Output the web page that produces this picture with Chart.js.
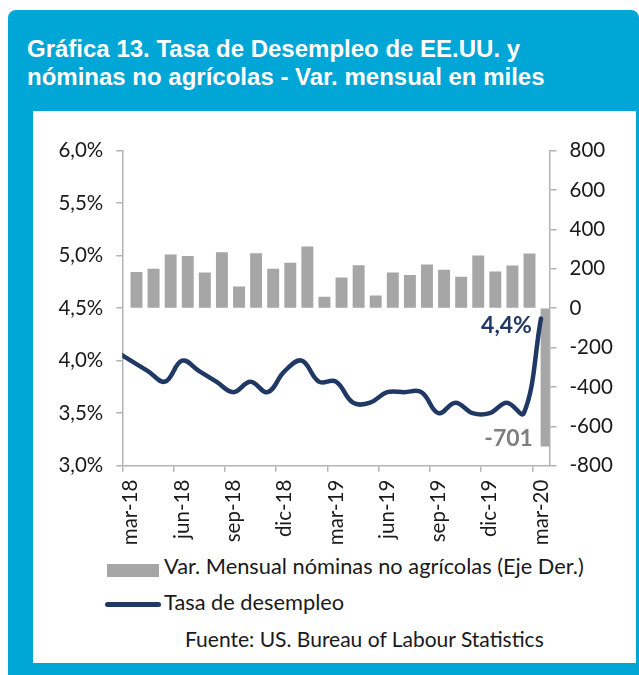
<!DOCTYPE html>
<html><head><meta charset="utf-8">
<script src="https://cdn.jsdelivr.net/npm/chart.js@4"></script>
<style>
html,body{margin:0;padding:0;background:#fff;width:639px;height:675px;overflow:hidden;}
#frame{position:absolute;left:8px;top:10px;width:631px;height:665px;background:#00A6D6;border-radius:8px 8px 0 0;}
#title{position:absolute;left:27px;top:34.7px;color:#fff;font-family:"Liberation Sans",Arial,sans-serif;font-weight:bold;font-size:24px;line-height:28px;white-space:nowrap;}
#panel{position:absolute;left:33px;top:111px;width:603px;height:552px;background:#fff;}
#c{position:absolute;left:0;top:0;}
.lg{position:absolute;font-family:Lato,sans-serif;color:#1a1a1a;white-space:nowrap;font-size:21.8px;line-height:24px;}
.sw{position:absolute;}
</style></head><body>
<div id="frame"></div>
<div id="title">Gráfica 13. Tasa de Desempleo de EE.UU. y<br>nóminas no agrícolas - Var. mensual en miles</div>
<div id="panel"></div>
<div class="sw" style="left:107px;top:564px;width:52px;height:13px;background:#A6A6A6;"></div>
<div class="lg" style="left:164px;top:554.4px;">Var. Mensual nóminas no agrícolas (Eje Der.)</div>
<div class="sw" style="left:105px;top:601.5px;width:56px;height:5px;border-radius:3px;background:#203864;"></div>
<div class="lg" style="left:164px;top:590px;">Tasa de desempleo</div>
<div class="lg" style="left:185px;top:627.4px;font-size:21px;">Fuente: US. Bureau of Labour Statistics</div>
<canvas id="c" width="639" height="675"></canvas>
<script>
// Monthly categories shown on the x axis (mar-18 .. mar-20)
const categories = ['mar-18','abr-18','may-18','jun-18','jul-18','ago-18','sep-18','oct-18','nov-18','dic-18','ene-19','feb-19','mar-19','abr-19','may-19','jun-19','jul-19','ago-19','sep-19','oct-19','nov-19','dic-19','ene-20','feb-20','mar-20'];
// Non-farm payrolls, monthly change in thousands (right axis)
const payrollChange = [182,198,270,263,179,282,108,277,198,228,311,56,154,216,62,179,166,220,193,157,265,184,214,275,-701];
// Unemployment rate (%), starting one month earlier (feb-18), which is clipped at the left axis
const unemploymentRate = [4.1,4.0,3.9,3.8,4.0,3.9,3.8,3.7,3.8,3.7,3.9,4.0,3.8,3.8,3.6,3.6,3.7,3.7,3.7,3.5,3.6,3.5,3.5,3.6,3.5,4.4];
const unemploymentStartIndex = -1;
const leftTickValues = [3.0,3.5,4.0,4.5,5.0,5.5,6.0];
const rightTickValues = [-800,-600,-400,-200,0,200,400,600,800];
const labelEvery = 3;

const axisColor = '#B3B3B3';
const tickFont = {family:'Lato', size:20.5};
const fmtPct = v => v.toFixed(1).replace('.', ',') + '%';

const valueLabels = {
  id:'valueLabels',
  afterDatasetsDraw(chart){
    const c = chart.ctx;
    const lineMeta = chart.getDatasetMeta(0).data;
    const barMeta = chart.getDatasetMeta(1).data;
    const lp = lineMeta[lineMeta.length - 1];
    const bp = barMeta[barMeta.length - 1];
    c.save();
    c.font = 'bold 23px Lato';
    c.textAlign = 'right';
    c.textBaseline = 'middle';
    c.fillStyle = '#203864';
    c.fillText(fmtPct(unemploymentRate[unemploymentRate.length - 1]), lp.x - 9, lp.y + 7);
    c.fillStyle = '#7F7F7F';
    c.fillText(String(payrollChange[payrollChange.length - 1]), bp.x - bp.width/2 - 8, bp.y - 8);
    c.restore();
  }
};

new Chart(document.getElementById('c'), {
  data: {
    labels: categories,
    datasets: [
      {type:'line', label:'Tasa de desempleo', xAxisID:'x2', yAxisID:'y',
       data: unemploymentRate.map((v, i) => ({x: i + unemploymentStartIndex, y: v})),
       borderColor:'#203864', borderWidth:4.5, tension:0.4, pointRadius:0, order:0, clip:0,
       borderCapStyle:'round', borderJoinStyle:'round'},
      {type:'bar', label:'Var. Mensual nóminas no agrícolas (Eje Der.)', data: payrollChange, xAxisID:'x', yAxisID:'y1',
       backgroundColor:'#A6A6A6', order:1,
       barThickness: ctx => ctx.chart.scales.x.width / categories.length * 0.66}
    ]
  },
  options: {
    responsive:false, animation:false, devicePixelRatio:1,
    layout:{padding:{left:40, right:0, top:150.5, bottom:129.3}},
    plugins:{legend:{display:false}, tooltip:{enabled:false}},
    scales:{
      x:{
        offset:true,
        grid:{offset:true, drawOnChartArea:false, drawTicks:true, tickLength:6, lineWidth:1.5,
              color: c => (c.index !== undefined && c.index % labelEvery === 0) ? axisColor : 'rgba(0,0,0,0)'},
        border:{display:true, color:axisColor, width:1.5},
        ticks:{autoSkip:false, maxRotation:90, minRotation:90, padding:8, color:'#1a1a1a', font:tickFont,
               callback:(v,i) => i % labelEvery === 0 ? categories[i] : ''},
        afterFit: s => { s.height = 80; }
      },
      x2:{
        type:'linear', display:false, min:-0.5, max:categories.length - 0.5
      },
      y:{
        position:'left', min:3, max:6,
        afterBuildTicks: s => { s.ticks = leftTickValues.map(v => ({value:v})); },
        grid:{drawOnChartArea:false, tickLength:6, color:axisColor, lineWidth:1.5},
        border:{color:axisColor, width:1.5},
        ticks:{padding:13, color:'#1a1a1a', font:tickFont, callback: v => fmtPct(v)},
        afterFit: s => { s.width = 82.3; }
      },
      y1:{
        position:'right', min:-800, max:800,
        afterBuildTicks: s => { s.ticks = rightTickValues.map(v => ({value:v})); },
        grid:{drawOnChartArea:false, tickLength:7, color:axisColor, lineWidth:1.5},
        border:{color:axisColor, width:1.5},
        ticks:{padding:13, color:'#1a1a1a', font:tickFont, callback: v => String(v)},
        afterFit: s => { s.width = 89.5; }
      }
    }
  },
  plugins:[valueLabels]
});
</script>
</body></html>
